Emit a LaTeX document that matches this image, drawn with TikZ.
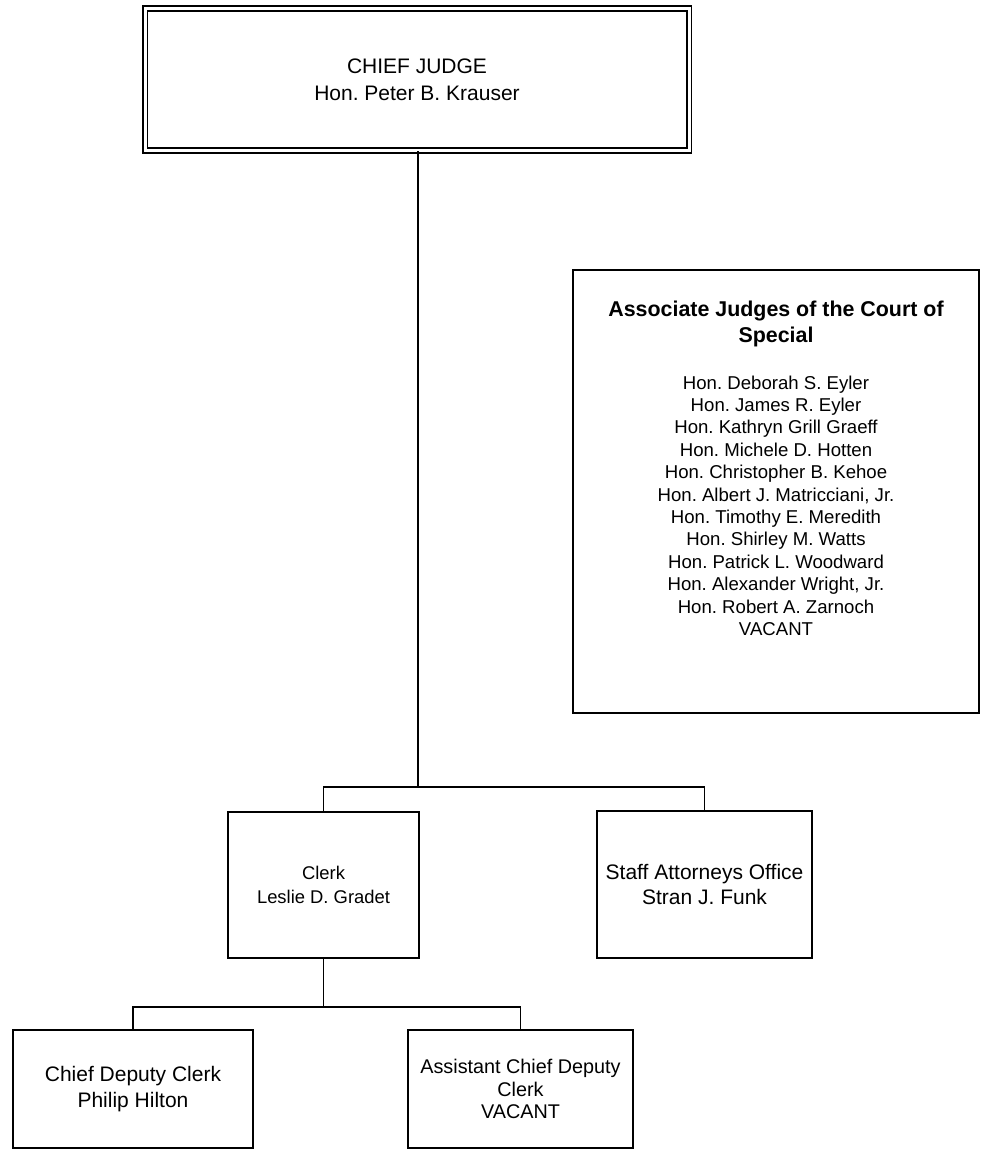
\documentclass[tikz,border=0pt]{standalone}
\usepackage{fontspec}
\setmainfont{Liberation Sans}
\frenchspacing
\begin{document}
\begin{tikzpicture}[x=1pt,y=-1pt,
  orgbox/.style={draw=black, line width=1.8pt, rectangle, inner sep=0pt, align=center, fill=white},
  conn/.style={draw=black, line width=1.2pt},
  f21/.style={font=\fontsize{21}{25.7}\selectfont},
  f20/.style={font=\fontsize{19.8}{22.4}\selectfont},
  f18/.style={font=\fontsize{18.4}{24}\selectfont}]
\useasboundingbox (0,0) rectangle (981,1150);
\fill[white] (0,0) rectangle (981,1150);

% top box
\node[orgbox, double, double distance=3pt, line width=1.8pt, minimum width=544pt, minimum height=142pt,
      font=\fontsize{21}{26.7}\selectfont] (top) at (417,79.5)
  {CHIEF JUDGE\\Hon. Peter B. Krauser};

% associate judges box
\node[orgbox, minimum width=406pt, minimum height=443pt] (assoc) at (776,491.5) {};
\node[anchor=north, inner sep=0pt, align=center, font=\fontsize{21.4}{26.7}\selectfont\bfseries] (assoctitle) at (776,300.5)
  {Associate Judges of the Court of\\Special};
\node[anchor=north, inner sep=0pt, align=center, font=\fontsize{18.6}{22.4}\selectfont] (assocnames) at (776,375.5)
  {Hon. Deborah S. Eyler\\Hon. James R. Eyler\\Hon. Kathryn Grill Graeff\\Hon. Michele D. Hotten\\
   Hon. Christopher B. Kehoe\\Hon. Albert J. Matricciani, Jr.\\Hon. Timothy E. Meredith\\
   Hon. Shirley M. Watts\\Hon. Patrick L. Woodward\\Hon. Alexander Wright, Jr.\\Hon. Robert A. Zarnoch\\VACANT};

% second level
\node[orgbox, f18, minimum width=191pt, minimum height=146pt] (clerk) at (323.5,885) {Clerk\\Leslie D. Gradet};
\node[orgbox, f21, minimum width=215pt, minimum height=147pt] (staff) at (704.5,884.5) {Staff Attorneys Office\\Stran J. Funk};

% third level
\node[orgbox, f21, minimum width=240pt, minimum height=118pt] (cdc) at (133,1089) {Chief Deputy Clerk\\Philip Hilton};
\node[orgbox, f20, minimum width=225pt, minimum height=118pt] (acdc) at (520.5,1089) {Assistant Chief Deputy\\Clerk\\VACANT};

% junctions
\coordinate (j1) at (418,787);
\coordinate (j2) at (323.5,1007);

% connectors
\draw[conn] (j1 |- top.south) -- (j1);
\draw[conn] (clerk.north) |- (j1) -| (staff.north);
\draw[conn] (clerk.south) -- (j2);
\draw[conn] (cdc.north) |- (j2) -| (acdc.north);
\end{tikzpicture}
\end{document}
